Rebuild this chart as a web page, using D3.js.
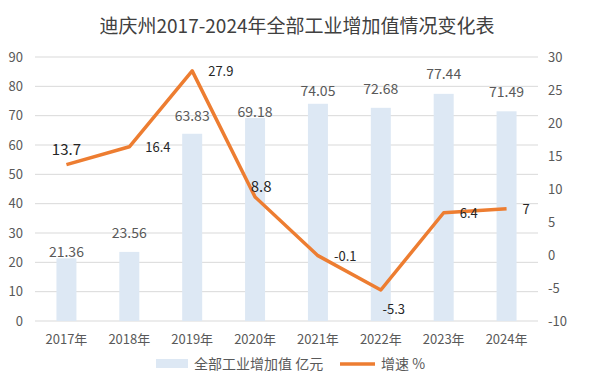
<!DOCTYPE html>
<html>
<head>
<meta charset="utf-8">
<script src="https://cdn.jsdelivr.net/npm/d3@7"></script>
<style>
  body { margin: 0; background: #fff; }
  text { font-family: "Noto Sans CJK SC", "Noto Sans", sans-serif; }
</style>
</head>
<body>
<div class="chart"></div>
<script>
// data
const years = ['2017年','2018年','2019年','2020年','2021年','2022年','2023年','2024年']
const addedValue = [21.36, 23.56, 63.83, 69.18, 74.05, 72.68, 77.44, 71.49]
const growth = [13.7, 16.4, 27.9, 8.8, -0.1, -5.3, 6.4, 7]
const leftTicks = [0,10,20,30,40,50,60,70,80,90]
const rightTicks = [-10,-5,0,5,10,15,20,25,30]

// where each growth label sits relative to its point
const growthLabelPos = ['above','right','right','above','right','below','right','right']
// extra lift of the bar labels above the bar top
const barLabelLift = [6, 19, 18, 6, 13, 19, 20, 19]

var W = 598, H = 391
var margin = {top: 57, right: 60, bottom: 70, left: 35},
    width = W - margin.left - margin.right,
    height = H - margin.top - margin.bottom

var svg = d3.select(".chart").append("svg")
  .attr("width", W)
  .attr("height", H)

svg.append("text")
  .attr("x", 297).attr("y", 33)
  .attr("text-anchor", "middle")
  .style("font-size", "19px")
  .style("fill", "#404040")
  .text("迪庆州2017-2024年全部工业增加值情况变化表")

var g = svg.append("g")
  .attr("transform", "translate(" + margin.left + "," + margin.top + ")")

var x = d3.scaleBand().domain(years).range([0, width])
var yL = d3.scaleLinear().domain([0, 90]).range([height, 0])
var yR = d3.scaleLinear().domain([-10, 30]).range([height, 0])

// gridlines
g.selectAll(".grid").data(leftTicks).enter().append("line")
  .attr("x1", 0).attr("x2", width)
  .attr("y1", d => yL(d)).attr("y2", d => yL(d))
  .attr("stroke", "#d9d9d9").attr("stroke-width", 1)

// left axis labels
g.selectAll(".lt").data(leftTicks).enter().append("text")
  .attr("x", -12).attr("y", d => yL(d))
  .attr("dy", "0.35em")
  .attr("text-anchor", "end")
  .style("font-size", "13px").style("fill", "#595959")
  .text(d => d)

// right axis labels
g.selectAll(".rt").data(rightTicks).enter().append("text")
  .attr("x", width + 10).attr("y", d => yR(d))
  .attr("dy", "0.35em")
  .attr("text-anchor", "start")
  .style("font-size", "13px").style("fill", "#595959")
  .text(d => d)

// x labels
g.selectAll(".xt").data(years).enter().append("text")
  .attr("x", d => x(d) + x.bandwidth() / 2)
  .attr("y", height + 23)
  .attr("text-anchor", "middle")
  .style("font-size", "13px").style("fill", "#595959")
  .text(d => d)

// bars
var barW = 20
g.selectAll(".bar").data(addedValue).enter().append("rect")
  .attr("x", (d, i) => x(years[i]) + x.bandwidth() / 2 - barW / 2)
  .attr("y", d => yL(d))
  .attr("width", barW)
  .attr("height", d => height - yL(d))
  .attr("fill", "#dde8f4")

g.selectAll(".blab").data(addedValue).enter().append("text")
  .attr("x", (d, i) => x(years[i]) + x.bandwidth() / 2)
  .attr("y", (d, i) => yL(d) - barLabelLift[i])
  .attr("dy", "0.35em")
  .attr("text-anchor", "middle")
  .style("font-size", "14px").style("fill", "#595959")
  .text(d => d)

// growth line
var line = d3.line()
  .x((d, i) => x(years[i]) + x.bandwidth() / 2)
  .y(d => yR(d))

g.append("path")
  .datum(growth)
  .attr("d", line)
  .attr("fill", "none")
  .attr("stroke", "#ed7d31")
  .attr("stroke-width", 3.5)
  .attr("stroke-linejoin", "round")

g.selectAll(".glab").data(growth).enter().append("text")
  .attr("x", (d, i) => {
    var cx = x(years[i]) + x.bandwidth() / 2
    if (growthLabelPos[i] == 'right') return cx + 16
    if (growthLabelPos[i] == 'below') return cx + 13
    return cx + (i == 0 ? 0 : 6)
  })
  .attr("y", (d, i) => {
    var cy = yR(d)
    if (growthLabelPos[i] == 'above') return cy - (i == 0 ? 15 : 10)
    if (growthLabelPos[i] == 'below') return cy + 19
    return cy + 1
  })
  .attr("dy", "0.35em")
  .attr("text-anchor", (d, i) => growthLabelPos[i] == 'right' ? "start" : "middle")
  .style("font-size", (d, i) => (i == 0 || i == 3) ? "15px" : "13px")
  .style("fill", "#262626")
  .text(d => d)

// legend
var lg = svg.append("g")
lg.append("rect")
  .attr("x", 156).attr("y", 359).attr("width", 32).attr("height", 9)
  .attr("fill", "#dde8f4")
lg.append("text")
  .attr("x", 194).attr("y", 364).attr("dy", "0.35em")
  .style("font-size", "14px").style("fill", "#595959")
  .text("全部工业增加值 亿元")
lg.append("line")
  .attr("x1", 340).attr("x2", 375).attr("y1", 364).attr("y2", 364)
  .attr("stroke", "#ed7d31").attr("stroke-width", 3.5)
lg.append("text")
  .attr("x", 381).attr("y", 364).attr("dy", "0.35em")
  .style("font-size", "14px").style("fill", "#595959")
  .text("增速 %")
</script>
</body>
</html>
